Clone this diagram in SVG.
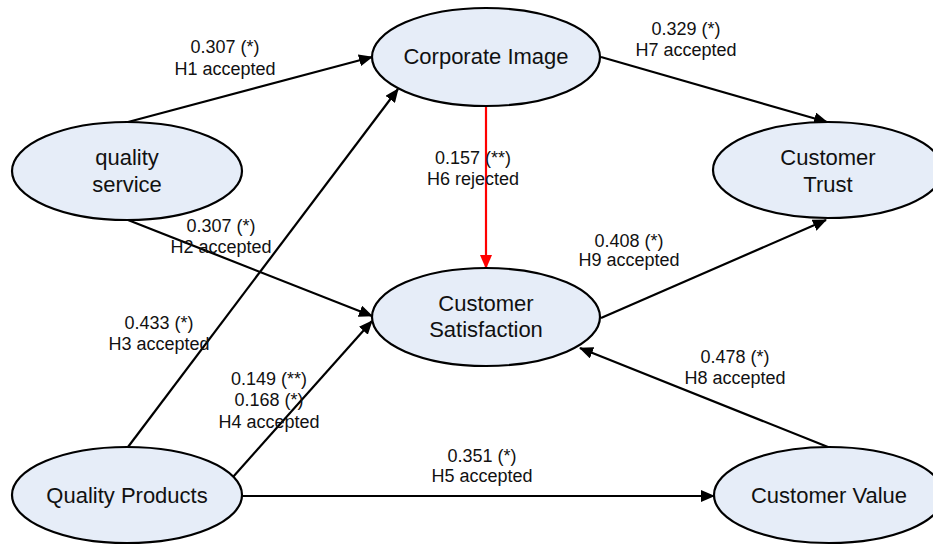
<svg xmlns="http://www.w3.org/2000/svg" width="933" height="545" viewBox="0 0 933 545">
<style>
.node ellipse{fill:#e6edf8;stroke:#000;stroke-width:2.2}
.node text{font-family:"Liberation Sans",Arial,sans-serif;font-size:22px;fill:#111;text-anchor:middle}
.edge{stroke:#000;stroke-width:2.2;fill:none;marker-end:url(#arr)}
.red{stroke:#ff0000;marker-end:url(#arrR)}
.lbl{font-family:"Liberation Sans",Arial,sans-serif;font-size:18px;fill:#111;text-anchor:middle}
</style>
<defs>
<marker id="arr" viewBox="0 0 14 12" refX="13" refY="6" markerWidth="14" markerHeight="12" markerUnits="userSpaceOnUse" orient="auto"><path d="M0,0 L14,6 L0,12 z" fill="#000"/></marker>
<marker id="arrR" viewBox="0 0 14 12" refX="13" refY="6" markerWidth="14" markerHeight="12" markerUnits="userSpaceOnUse" orient="auto"><path d="M0,0 L14,6 L0,12 z" fill="#ff0000"/></marker>
</defs>
<rect width="933" height="545" fill="#fff"/>
<g id="connectors">
<line class="edge" x1="128" y1="122" x2="372" y2="57"/>
<line class="edge" x1="128" y1="220" x2="372" y2="316"/>
<line class="edge" x1="128" y1="447" x2="398" y2="89"/>
<line class="edge" x1="233" y1="477" x2="372" y2="321"/>
<line class="edge" x1="242" y1="496" x2="714" y2="496"/>
<line class="edge red" x1="486" y1="106" x2="486" y2="268"/>
<line class="edge" x1="601" y1="57" x2="827" y2="122"/>
<line class="edge" x1="601" y1="318" x2="826" y2="220"/>
<line class="edge" x1="828" y1="447" x2="580" y2="348"/>
</g>
<g id="labels">
<text class="lbl" x="225" y="53">0.307 (*)</text>
<text class="lbl" x="225" y="75">H1 accepted</text>
<text class="lbl" x="221" y="232">0.307 (*)</text>
<text class="lbl" x="221" y="253">H2 accepted</text>
<text class="lbl" x="159" y="329">0.433 (*)</text>
<text class="lbl" x="159" y="350">H3 accepted</text>
<text class="lbl" x="269" y="385">0.149 (**)</text>
<text class="lbl" x="269" y="406">0.168 (*)</text>
<text class="lbl" x="269" y="428">H4 accepted</text>
<text class="lbl" x="482" y="462">0.351 (*)</text>
<text class="lbl" x="482" y="482">H5 accepted</text>
<text class="lbl" x="473" y="164">0.157 (**)</text>
<text class="lbl" x="473" y="185">H6 rejected</text>
<text class="lbl" x="686" y="35">0.329 (*)</text>
<text class="lbl" x="686" y="56">H7 accepted</text>
<text class="lbl" x="735" y="363">0.478 (*)</text>
<text class="lbl" x="735" y="384">H8 accepted</text>
<text class="lbl" x="629" y="247">0.408 (*)</text>
<text class="lbl" x="629" y="266">H9 accepted</text>
</g>
<g id="quality-service" class="node"><ellipse cx="127" cy="171" rx="115" ry="49"/><text x="127" y="165">quality</text><text x="127" y="192">service</text></g>
<g id="corporate-image" class="node"><ellipse cx="486" cy="57" rx="114" ry="49"/><text x="486" y="64">Corporate Image</text></g>
<g id="customer-trust" class="node"><ellipse cx="828" cy="170" rx="115" ry="48"/><text x="828" y="165">Customer</text><text x="828" y="192">Trust</text></g>
<g id="customer-satisfaction" class="node"><ellipse cx="486" cy="317" rx="114" ry="49"/><text x="486" y="311">Customer</text><text x="486" y="337">Satisfaction</text></g>
<g id="quality-products" class="node"><ellipse cx="127" cy="495" rx="115" ry="48"/><text x="127" y="503">Quality Products</text></g>
<g id="customer-value" class="node"><ellipse cx="829" cy="495" rx="115" ry="48"/><text x="829" y="503">Customer Value</text></g>
</svg>
